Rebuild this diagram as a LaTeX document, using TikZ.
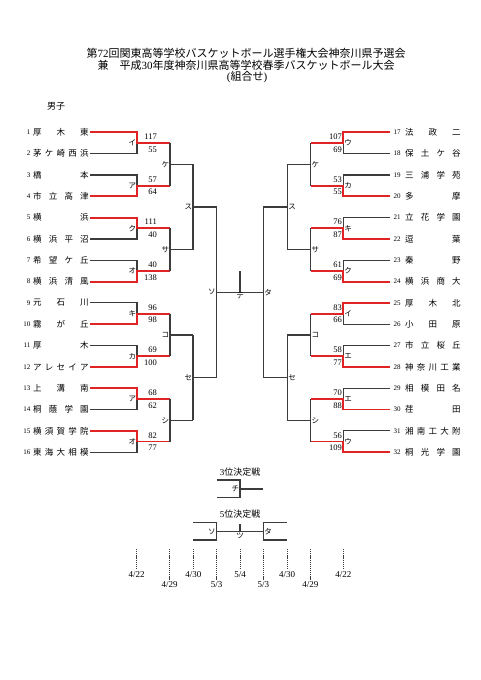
\documentclass[tikz,border=0pt]{standalone}
\usepackage{fontspec}
\setmainfont{Liberation Serif}
\newfontfamily\cjk{Noto Sans CJK JP}
\definecolor{rline}{HTML}{E02424}
\definecolor{gline}{HTML}{3C3C3C}
\begin{document}
\begin{tikzpicture}[x=1pt,y=-1pt,
  gl/.style={draw=gline,line width=1.1pt},
  rl/.style={draw=rline,line width=1.8pt},
  lab/.style={inner sep=0.8pt,font=\cjk\fontsize{7.5}{8}\selectfont},
  sc/.style={inner sep=0pt,font=\fontsize{8.5}{9}\selectfont},
  num/.style={inner sep=0pt,font=\fontsize{7}{8}\selectfont},
  tname/.style={inner sep=0pt,font=\cjk\fontsize{8.5}{9}\selectfont},
  ttl/.style={inner sep=0pt,font=\cjk\fontsize{11}{12}\selectfont},
  dl/.style={draw=gline,line width=0.9pt,dash pattern=on 1.2pt off 0.9pt},
  dt/.style={inner sep=0pt,font=\fontsize{9}{10}\selectfont}]
\path[use as bounding box] (0,0) rectangle (481,680);
\fill[white] (0,0) rectangle (481,680);

% title
\node[ttl] (t1) at (246,53) {第{\rmfamily 72}回関東高等学校バスケットボール選手権大会神奈川県予選会};
\node[ttl] (t2) at (246,65) {兼\hspace{1em}平成{\rmfamily 30}年度神奈川県高等学校春季バスケットボール大会};
\node[ttl] (t3) at (247,77) {{\rmfamily(}組合せ{\rmfamily)}};
\node[inner sep=0pt,font=\cjk\fontsize{9}{10}\selectfont] (men) at (56,106) {男子};

% left teams
\foreach \i/\n in {1/{厚\hfill 木\hfill 東},2/{茅\hfill ケ\hfill 崎\hfill 西\hfill 浜},3/{橋\hfill 本},4/{市\hfill 立\hfill 高\hfill 津},
  5/{横\hfill 浜},6/{横\hfill 浜\hfill 平\hfill 沼},7/{希\hfill 望\hfill ケ\hfill 丘},8/{横\hfill 浜\hfill 清\hfill 風},
  9/{元\hfill 石\hfill 川},10/{霧\hfill が\hfill 丘},11/{厚\hfill 木},12/{ア\hfill レ\hfill セ\hfill イ\hfill ア},
  13/{上\hfill 溝\hfill 南},14/{桐\hfill 蔭\hfill 学\hfill 園},15/{横\hfill 須\hfill 賀\hfill 学\hfill 院},16/{東\hfill 海\hfill 大\hfill 相\hfill 模}} {
  \pgfmathsetmacro\yy{132.3+(\i-1)*21.33}
  \node[num,anchor=east] (ln\i) at (30.5,\yy) {\i};
  \node[tname,anchor=west] (lt\i) at (33,\yy) {\makebox[55.5pt]{\n}};
  \coordinate (le\i) at (90,\yy);
}
% right teams
\foreach \i/\n in {17/{法\hfill 政\hfill 二},18/{保\hfill 土\hfill ケ\hfill 谷},19/{三\hfill 浦\hfill 学\hfill 苑},20/{多\hfill 摩},
  21/{立\hfill 花\hfill 学\hfill 園},22/{逗\hfill 葉},23/{秦\hfill 野},24/{横\hfill 浜\hfill 商\hfill 大},
  25/{厚\hfill 木\hfill 北},26/{小\hfill 田\hfill 原},27/{市\hfill 立\hfill 桜\hfill 丘},28/{神\hfill 奈\hfill 川\hfill 工\hfill 業},
  29/{相\hfill 模\hfill 田\hfill 名},30/{荏\hfill 田},31/{湘\hfill 南\hfill 工\hfill 大\hfill 附},32/{桐\hfill 光\hfill 学\hfill 園}} {
  \pgfmathsetmacro\yy{132.3+(\i-17)*21.33}
  \node[num,anchor=west] (rn\i) at (393.5,\yy) {\i};
  \node[tname,anchor=west] (rt\i) at (405,\yy) {\makebox[55.5pt]{\n}};
  \coordinate (re\i) at (390,\yy);
}

% left first round
\foreach \m/\lab/\sa/\sb/\w in {1/イ/117/55/1,2/ア/57/64/2,3/ク/111/40/1,4/オ/40/138/2,
  5/キ/96/98/2,6/カ/69/100/2,7/ア/68/62/1,8/オ/82/77/1} {
  \pgfmathtruncatemacro\ia{2*\m-1}
  \pgfmathtruncatemacro\ib{2*\m}
  \pgfmathtruncatemacro\iw{\w==1 ? \ia : \ib}
  \pgfmathtruncatemacro\il{\w==1 ? \ib : \ia}
  \pgfmathsetmacro\ym{132.3+(2*\m-2)*21.33+10.665}
  \coordinate (lm\m) at (137,\ym);
  \coordinate (lo\m) at (170,\ym);
  \draw[gl] (le\il) -- (le\il -| lm\m) -- (lm\m);
  \draw[rl] (le\iw) -- (le\iw -| lm\m) -- (lm\m) -- (lo\m);
  \node[lab,anchor=east] (lml\m) at (lm\m) {\lab};
  \node[sc,anchor=east] (lsa\m) at (157,\ym-6.3) {\sa};
  \node[sc,anchor=east] (lsb\m) at (157,\ym+6.3) {\sb};
}
% right first round
\foreach \m/\lab/\sa/\sb/\w in {1/ウ/107/69/1,2/カ/53/55/2,3/キ/76/87/2,4/ク/61/69/2,
  5/イ/83/66/1,6/エ/58/77/2,7/エ/70/88/2,8/ウ/56/109/2} {
  \pgfmathtruncatemacro\ia{16+2*\m-1}
  \pgfmathtruncatemacro\ib{16+2*\m}
  \pgfmathtruncatemacro\iw{\w==1 ? \ia : \ib}
  \pgfmathtruncatemacro\il{\w==1 ? \ib : \ia}
  \pgfmathsetmacro\ym{132.3+(2*\m-2)*21.33+10.665}
  \coordinate (rm\m) at (343.3,\ym);
  \coordinate (ro\m) at (310.7,\ym);
  \draw[gl] (re\il) -- (re\il -| rm\m) -- (rm\m);
  \draw[rl] (re\iw) -- (re\iw -| rm\m) -- (rm\m) -- (ro\m);
  \node[lab,anchor=west] (rml\m) at (rm\m) {\lab};
  \node[sc,anchor=east] (rsa\m) at (342,\ym-6.3) {\sa};
  \node[sc,anchor=east] (rsb\m) at (342,\ym+6.3) {\sb};
}

% second round
\foreach \g/\lab in {1/ケ,2/サ,3/コ,4/シ} {
  \pgfmathtruncatemacro\ga{2*\g-1}
  \pgfmathtruncatemacro\gb{2*\g}
  \pgfmathsetmacro\ym{143+(4*\g-3)*21.33}
  \coordinate (lq\g) at (170,\ym);
  \coordinate (lr\g) at (193,\ym);
  \coordinate (rq\g) at (310.7,\ym);
  \coordinate (rr\g) at (287.3,\ym);
  \draw[gl] (lo\ga) -- (lo\gb);
  \draw[gl] (lq\g) -- (lr\g);
  \draw[gl] (ro\ga) -- (ro\gb);
  \draw[gl] (rq\g) -- (rr\g);
  \node[lab,anchor=east] (lql\g) at (lq\g) {\lab};
  \node[lab,anchor=west] (rql\g) at (rq\g) {\lab};
}
% third round
\foreach \h/\lab in {1/ス,2/セ} {
  \pgfmathtruncatemacro\ha{2*\h-1}
  \pgfmathtruncatemacro\hb{2*\h}
  \pgfmathsetmacro\ym{143+(8*\h-5)*21.33}
  \coordinate (ls\h) at (193,\ym);
  \coordinate (lu\h) at (216.7,\ym);
  \coordinate (rs\h) at (287.3,\ym);
  \coordinate (ru\h) at (263.3,\ym);
  \draw[gl] (lr\ha) -- (lr\hb);
  \draw[gl] (ls\h) -- (lu\h);
  \draw[gl] (rr\ha) -- (rr\hb);
  \draw[gl] (rs\h) -- (ru\h);
  \node[lab,anchor=east] (lsl\h) at (ls\h) {\lab};
  \node[lab,anchor=west] (rsl\h) at (rs\h) {\lab};
}
% semifinal and final
\coordinate (lv) at (216.7,292.3);
\coordinate (rv) at (263.3,292.3);
\coordinate (fc) at (240,292.3);
\coordinate (ft) at (240,270.7);
\draw[gl] (lu1) -- (lu2);
\draw[gl] (ru1) -- (ru2);
\draw[gl] (lv) -- (rv);
\draw[gl] (fc) -- (ft);
\node[lab,anchor=east] (so) at (lv) {ソ};
\node[lab,anchor=west] (ta) at (rv) {タ};
\node[lab,anchor=north] (te) at (fc) {テ};

% 3rd place
\node[inner sep=0pt,font=\cjk\fontsize{9}{10}\selectfont] (p3) at (240,471.7) {{\rmfamily 3}位決定戦};
\coordinate (c3a) at (216.7,480);
\coordinate (c3b) at (216.7,497.3);
\coordinate (c3m) at (240,489);
\coordinate (c3e) at (263.3,489);
\draw[gl] (c3a) -- (c3a -| c3m) -- (c3b -| c3m) -- (c3b);
\draw[gl] (c3m) -- (c3e);
\node[lab,anchor=east] (chi) at (c3m) {チ};

% 5th place
\node[inner sep=0pt,font=\cjk\fontsize{9}{10}\selectfont] (p5) at (240,514.3) {{\rmfamily 5}位決定戦};
\coordinate (c5la) at (193.3,522.7);
\coordinate (c5lb) at (193.3,540);
\coordinate (c5lm) at (216.7,531.7);
\coordinate (c5ra) at (286.7,522.7);
\coordinate (c5rb) at (286.7,540);
\coordinate (c5rm) at (263.3,531.7);
\coordinate (c5c) at (240,531.7);
\coordinate (c5t) at (240,524.3);
\draw[gl] (c5la) -- (c5la -| c5lm) -- (c5lb -| c5lm) -- (c5lb);
\draw[gl] (c5ra) -- (c5ra -| c5rm) -- (c5rb -| c5rm) -- (c5rb);
\draw[gl] (c5lm) -- (c5rm);
\draw[gl] (c5c) -- (c5t);
\node[lab,anchor=east] (so5) at (c5lm) {ソ};
\node[lab,anchor=west] (ta5) at (c5rm) {タ};
\node[lab,anchor=north] (tsu) at (c5c) {ツ};

% dates
\foreach \k/\x/\d/\lo in {1/136.7/4\slash 22/0,2/169.7/4\slash 29/1,3/193.3/4\slash 30/0,4/216.7/5\slash 3/1,
  5/240/5\slash 4/0,6/263.3/5\slash 3/1,7/287/4\slash 30/0,8/310.3/4\slash 29/1,9/343.3/4\slash 22/0} {
  \pgfmathsetmacro\yend{\lo==1 ? 580 : 568.5}
  \pgfmathsetmacro\ylab{\lo==1 ? 585 : 575}
  \coordinate (ds\k) at (\x,549);
  \coordinate (de\k) at (\x,\yend);
  \draw[dl] (ds\k) -- (de\k);
  \node[dt] (dd\k) at (\x,\ylab) {\d};
}
\end{tikzpicture}
\end{document}
